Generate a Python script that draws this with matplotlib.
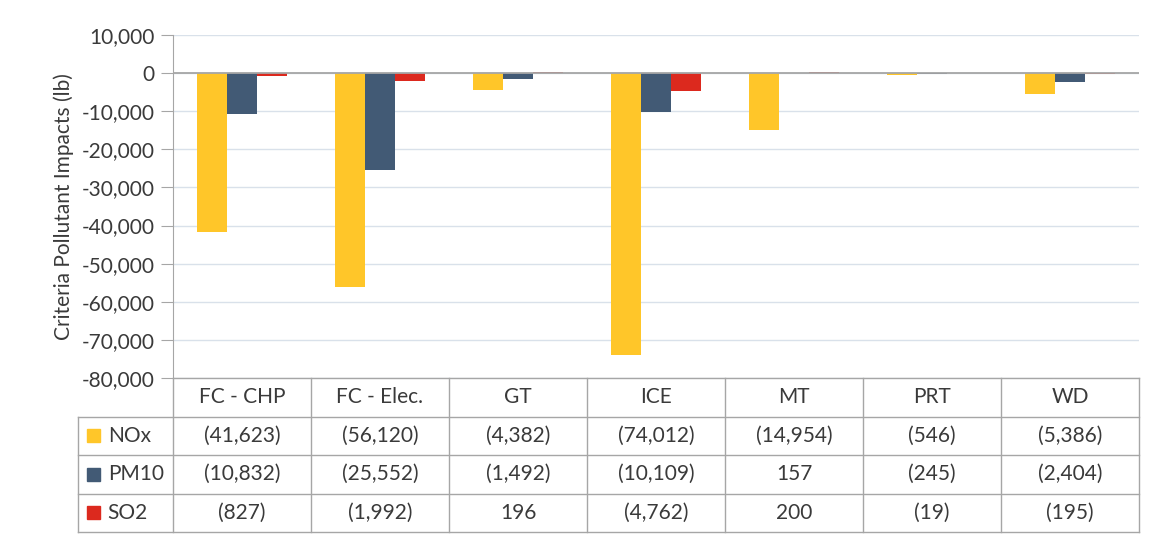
import numpy as np
import matplotlib.pyplot as plt
from matplotlib.patches import Rectangle

plt.rcParams.update({'font.family': ['Lato', 'DejaVu Sans'], 'font.size': 15})

categories = ['FC - CHP', 'FC - Elec.', 'GT', 'ICE', 'MT', 'PRT', 'WD']
series = ['NOx', 'PM10', 'SO2']
nox = [-41623, -56120, -4382, -74012, -14954, -546, -5386]
pm10 = [-10832, -25552, -1492, -10109, 157, -245, -2404]
so2 = [-827, -1992, 196, -4762, 200, -19, -195]
values = [nox, pm10, so2]
colors = ['#FFC629', '#425A75', '#DC291E']

txt = '#3A3A3A'
grid_c = '#D9E1EA'
line_c = '#A6A6A6'
fs = 15

W, H = 1155, 540
fig = plt.figure(figsize=(W / 100, H / 100), dpi=100)

# plot area in pixels
x0, x1 = 173, 1139
y_top, y_bot = 35, 378
ax = fig.add_axes([x0 / W, 1 - y_bot / H, (x1 - x0) / W, (y_bot - y_top) / H])

n = len(categories)
x = np.arange(n)
bw = 0.217
for i, (vals, c) in enumerate(zip(values, colors)):
    ax.bar(x + (i - 1) * bw, vals, bw, color=c, zorder=3)

ax.set_xlim(-0.5, n - 0.5)
ax.set_ylim(-80000, 10000)
ax.set_yticks(np.arange(-80000, 10001, 10000))
ax.yaxis.set_major_formatter(plt.FuncFormatter(lambda v, p: f'{int(v):,}'))
ax.tick_params(axis='y', length=9, color=line_c, labelcolor=txt, labelsize=fs, pad=4)
ax.set_xticks([])
ax.grid(axis='y', color=grid_c, lw=1, zorder=0)
ax.axhline(0, color=line_c, lw=1.3, zorder=4)
for s in ['top', 'right', 'bottom']:
    ax.spines[s].set_visible(False)
ax.spines['left'].set_color(line_c)
ax.set_ylabel('Criteria Pollutant Impacts (lb)', color=txt, fontsize=fs, labelpad=6)

# data table below the plot
lab_w = (x0 - 78) / 138.0
tb_top, tb_bot = 378, 532
tax = fig.add_axes([78 / W, 1 - tb_bot / H, (x1 - 78) / W, (tb_bot - tb_top) / H])
tax.set_xlim(-0.5 - lab_w, n - 0.5)
tax.set_ylim(4, 0)
tax.axis('off')
left = -0.5 - lab_w
# horizontal lines
tax.plot([-0.5, n - 0.5], [0, 0], color=line_c, lw=1, clip_on=False)
for r in range(1, 5):
    tax.plot([left, n - 0.5], [r, r], color=line_c, lw=1, clip_on=False)
# vertical lines
tax.plot([left, left], [1, 4], color=line_c, lw=1, clip_on=False)
for k in range(n + 1):
    tax.plot([k - 0.5, k - 0.5], [0, 4], color=line_c, lw=1, clip_on=False)

def fmt(v):
    return f'({abs(v):,})' if v < 0 else f'{v:,}'

for j, cat in enumerate(categories):
    tax.text(j, 0.5, cat, ha='center', va='center', color=txt, fontsize=fs)
for i, (name, vals, c) in enumerate(zip(series, values, colors)):
    r = i + 1.5
    tax.add_patch(Rectangle((left + 0.065, r - 0.17), 0.095, 0.34, color=c, clip_on=False))
    tax.text(left + 0.215, r, name, ha='left', va='center', color=txt, fontsize=fs)
    for j, v in enumerate(vals):
        tax.text(j, r, fmt(v), ha='center', va='center', color=txt, fontsize=fs)

fig.savefig('out.png', dpi=100, facecolor='white')
